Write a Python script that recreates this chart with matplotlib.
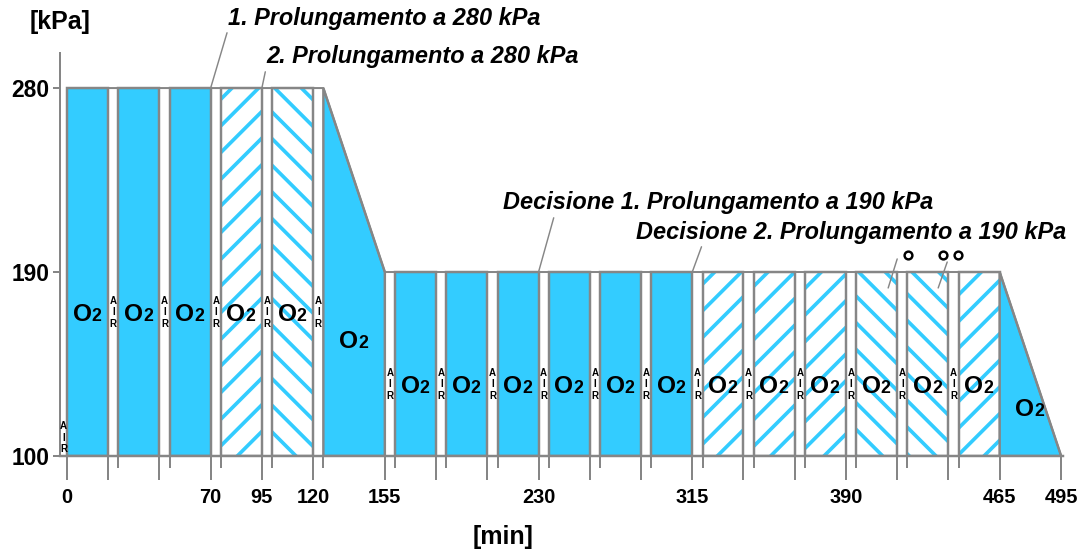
import matplotlib
matplotlib.use("Agg")
import matplotlib.pyplot as plt
from matplotlib.patches import Rectangle, Polygon

plt.rcParams['font.family'] = ['Liberation Sans', 'DejaVu Sans']
plt.rcParams['hatch.linewidth'] = 3.3

# fasi della terapia (durata in minuti, scala del disegno)
fase_tipo = ["aria",
             "o2", "aria", "o2", "aria", "o2", "aria", "prol_a", "aria", "prol_b", "aria",
             "risalita",
             "aria", "o2", "aria", "o2", "aria", "o2", "aria", "o2", "aria", "o2", "aria", "o2",
             "aria", "prol_a", "aria", "prol_a", "aria", "prol_a",
             "aria", "prol_b", "aria", "prol_b", "aria", "prol_a",
             "risalita"]
fase_durata = [3.5,
               20, 5, 20, 5, 20, 5, 20, 5, 20, 5,
               30,
               5, 20, 5, 20, 5, 20, 5, 20, 5, 20, 5, 20,
               5, 20, 5, 20, 5, 20,
               5, 20, 5, 20, 5, 20,
               30]
kpa_inizio = [100,
              280, 280, 280, 280, 280, 280, 280, 280, 280, 280,
              280,
              190, 190, 190, 190, 190, 190, 190, 190, 190, 190, 190, 190,
              190, 190, 190, 190, 190, 190,
              190, 190, 190, 190, 190, 190,
              190]
kpa_fine = [280,
            280, 280, 280, 280, 280, 280, 280, 280, 280, 280,
            190,
            190, 190, 190, 190, 190, 190, 190, 190, 190, 190, 190, 190,
            190, 190, 190, 190, 190, 190,
            190, 190, 190, 190, 190, 190,
            100]

tick_pos = [0, 70, 95, 120, 155, 230, 305, 380, 455, 485]
tick_etichette = ["0", "70", "95", "120", "155", "230", "315", "390", "465", "495"]
y_tick = [100, 190, 280]

blu = "#33CCFF"
grigio = "#868686"
W, H = 1086, 554

fig = plt.figure(figsize=(W / 80, H / 80), dpi=80)
ax = fig.add_axes([60 / W, 98 / H, 1011.4 / W, 402.7 / H])
ax.set_xlim(-3.5, 490)
ax.set_ylim(100, 297)


def etichetta_o2(x, y):
    ax.annotate("O", (x, y), xytext=(3.6, -7.6), textcoords='offset points',
                ha='right', va='baseline', fontsize=22, fontweight='bold', zorder=6)
    ax.annotate("2", (x, y), xytext=(3.6, -7.6), textcoords='offset points',
                ha='left', va='baseline', fontsize=16, fontweight='bold', zorder=6)


profilo_x, profilo_y = [], []
bordi_corti, bordi_lunghi = [], []
n_risalita = 0
y_risalita = [157, 123.5]
x = -3.5
for i, (tipo, dur, p0, p1) in enumerate(zip(fase_tipo, fase_durata, kpa_inizio, kpa_fine)):
    x0, x1 = x, x + dur
    xc = (x0 + x1) / 2
    if tipo == "aria":
        ya = 109 if p0 != p1 else 100 + 0.39 * (p0 - 100)
        ax.text(xc, ya, "A\nI\nR", ha='center', va='center', fontsize=8.8,
                fontweight='bold', linespacing=1.2, zorder=6)
    elif tipo == "risalita":
        ax.add_patch(Polygon([(x0, 100), (x0, p0), (x1, p1), (x1, 100)], closed=True,
                             facecolor=blu, edgecolor=grigio, lw=2.2, zorder=3))
        etichetta_o2(xc, y_risalita[n_risalita])
        n_risalita += 1
    else:
        if tipo == "o2":
            ax.add_patch(Rectangle((x0, 100), dur, p0 - 100, facecolor=blu,
                                   edgecolor=grigio, lw=2.2, zorder=3))
        else:
            tratteggio = "/" if tipo == "prol_a" else "\\"
            ax.add_patch(Rectangle((x0, 100), dur, p0 - 100, facecolor="white",
                                   edgecolor=blu, hatch=tratteggio, lw=0, zorder=2))
            ax.add_patch(Rectangle((x0, 100), dur, p0 - 100, facecolor="none",
                                   edgecolor=grigio, lw=2.2, zorder=3))
        etichetta_o2(xc, 100 + 0.39 * (p0 - 100))
    if tipo != "aria":
        if x0 == 0:
            bordi_lunghi.append(x0)
        else:
            bordi_corti.append(x0)
        bordi_lunghi.append(x1)
    if i > 0:
        profilo_x += [x0, x1]
        profilo_y += [p0, p1]
    x = x1

ax.plot(profilo_x, profilo_y, color=grigio, lw=1.8, zorder=4, solid_joinstyle='miter')
ax.plot([-3.5, 486], [100, 100], color=grigio, lw=2.2, zorder=4, clip_on=False)
ax.vlines(bordi_lunghi, 88.3, 100, color=grigio, lw=1.8, clip_on=False)
ax.vlines(bordi_corti, 94.1, 100, color=grigio, lw=1.8, clip_on=False)

# assi
for lato in ["top", "right", "bottom"]:
    ax.spines[lato].set_visible(False)
ax.spines["left"].set_color(grigio)
ax.spines["left"].set_linewidth(1.8)
ax.set_yticks(y_tick)
ax.set_yticklabels([str(v) for v in y_tick], fontsize=20.5, fontweight='bold')
ax.tick_params(axis='y', length=6.3, width=1.8, color=grigio, pad=3)
ax.set_xticks(tick_pos)
ax.set_xticklabels(tick_etichette, fontsize=18, fontweight='bold')
ax.tick_params(axis='x', length=0, pad=29)

fig.text(60 / W, 1 - 22 / H, "[kPa]", ha='center', va='center', fontsize=22.5, fontweight='bold')
fig.text(503 / W, 1 - 537 / H, "[min]", ha='center', va='center', fontsize=22.5, fontweight='bold')

# note
note = [("1. Prolungamento a 280 kPa", (70, 280), (228, 18), 0.0),
        ("2. Prolungamento a 280 kPa", (95, 280), (266, 57), 0.0),
        ("Decisione 1. Prolungamento a 190 kPa", (230, 190), (503, 203), 0.12),
        ("Decisione 2. Prolungamento a 190 kPa", (305, 190), (636, 232), 0.155)]
for testo, xy, pos, rx in note:
    ax.annotate(testo, xy=xy, xycoords='data', xytext=(pos[0], H - pos[1]),
                textcoords='figure pixels', ha='left', va='center', fontsize=21.2,
                fontweight='bold', fontstyle='italic', annotation_clip=False,
                arrowprops=dict(arrowstyle='-', color=grigio, lw=1.3, shrinkA=1,
                                shrinkB=0, relpos=(rx, 0)), zorder=6)

ax.plot([410.3, 427.4, 434.7], [198.3, 198.3, 198.3], 'o', mfc='white', mec='black',
        ms=7, mew=2.2, clip_on=False, zorder=6)
ax.annotate("", xy=(400.6, 182.2), xytext=(405, 196.4),
            arrowprops=dict(arrowstyle='-', color=grigio, lw=1.3, shrinkA=0, shrinkB=0), zorder=6)
ax.annotate("", xy=(425, 182.2), xytext=(429.4, 194.9),
            arrowprops=dict(arrowstyle='-', color=grigio, lw=1.3, shrinkA=0, shrinkB=0), zorder=6)

fig.savefig("out.png", dpi=80)
